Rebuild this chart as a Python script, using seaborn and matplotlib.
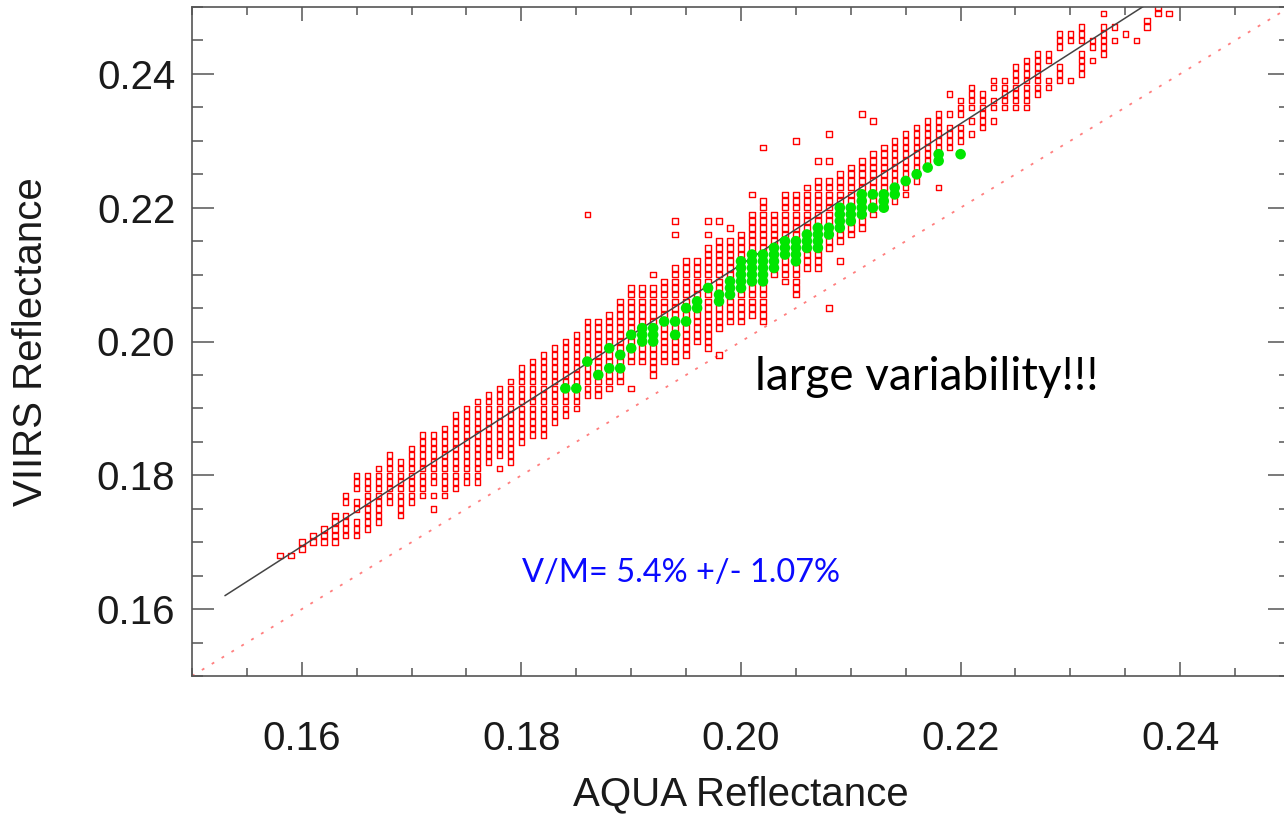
import numpy as np
import pandas as pd
import matplotlib
matplotlib.use("Agg")
import matplotlib.pyplot as plt
import seaborn as sns
from matplotlib.ticker import MultipleLocator, FormatStrFormatter

# ---------------- data (reflectance in units of 0.001) ----------------
# red squares: one column per AQUA value, VIIRS values from lo to hi
red_col_x = [158, 159, 160, 161, 162, 163, 164, 165, 166, 167, 168, 169, 170, 171,
             172, 173, 174, 175, 176, 177, 178, 179, 180, 181, 182, 183, 184, 185,
             186, 187, 188, 189, 190, 191, 192, 193, 194, 195, 196, 197, 198, 199,
             200, 201, 202, 203, 204, 205, 206, 207, 208, 209, 210, 211, 212, 213,
             214, 215, 216, 217, 218, 219, 220, 221, 222, 223, 224, 225, 226, 227,
             228, 229, 230, 231, 232, 233, 234, 235, 236, 237, 238, 239]
red_col_lo = [168, 168, 169, 170, 170, 170, 171, 171, 172, 173, 176, 174, 176, 177,
              177, 177, 178, 179, 179, 182, 183, 182, 185, 186, 186, 188, 189, 190,
              192, 192, 193, 194, 197, 197, 195, 197, 197, 198, 200, 199, 202, 203,
              203, 204, 203, 210, 209, 207, 211, 211, 214, 215, 216, 217, 219, 220,
              221, 222, 224, 227, 229, 229, 230, 231, 232, 233, 235, 235, 235, 237,
              238, 239, 245, 240, 244, 243, 245, 246, 245, 247, 249, 249]
red_col_hi = [168, 168, 170, 171, 172, 174, 177, 180, 180, 181, 183, 182, 184, 186,
              186, 187, 189, 190, 191, 192, 193, 194, 196, 197, 198, 199, 200, 201,
              203, 203, 204, 206, 208, 208, 208, 209, 211, 212, 212, 214, 215, 215,
              216, 219, 221, 219, 222, 222, 223, 224, 224, 225, 226, 227, 228, 229,
              230, 231, 232, 233, 234, 232, 236, 238, 237, 239, 239, 241, 242, 243,
              243, 246, 246, 247, 245, 247, 245, 246, 245, 248, 250, 249]
# empty cells inside a column
red_gap_x = [164, 165, 165, 172, 220, 221, 221, 223, 223, 228, 228, 229, 229, 231]
red_gap_y = [175, 177, 174, 178, 233, 232, 234, 234, 237, 240, 241, 242, 243, 244]
# isolated squares
red_extra_x = [172, 178, 186, 190, 192, 194, 194, 197, 197, 198, 198, 199, 201, 202,
               205, 207, 208, 208, 208, 209, 211, 212, 218, 219, 219, 230, 232, 233, 234]
red_extra_y = [175, 181, 219, 193, 210, 216, 218, 216, 218, 198, 218, 217, 222, 229,
               230, 227, 205, 227, 231, 212, 234, 233, 223, 234, 237, 239, 242, 249, 247]

# green dots
green_x = [184, 185, 186, 187, 188, 188, 189, 189, 190, 190, 191, 191, 191, 192, 192, 192,
           193, 194, 194, 195, 195, 196, 196, 197, 198, 198, 199, 199, 199,
           200, 200, 200, 200, 200, 201, 201, 201, 201, 201, 202, 202, 202, 202, 202,
           203, 203, 203, 203, 204, 204, 204, 205, 205, 205, 205, 206, 206, 206,
           207, 207, 207, 207, 208, 208, 209, 209, 209, 209, 210, 210, 210,
           211, 211, 211, 211, 212, 212, 213, 213, 213, 214, 214, 215, 216, 217,
           218, 218, 220]
green_y = [193, 193, 197, 195, 199, 196, 198, 196, 201, 199, 202, 201, 200, 202, 201, 200,
           203, 203, 201, 205, 203, 206, 205, 208, 207, 206, 209, 208, 207,
           212, 211, 210, 209, 208, 213, 212, 211, 210, 209, 213, 212, 211, 210, 209,
           214, 213, 212, 211, 215, 214, 213, 215, 214, 213, 212, 216, 215, 214,
           217, 216, 215, 214, 217, 216, 220, 219, 218, 217, 220, 219, 218,
           222, 221, 220, 219, 222, 220, 222, 221, 220, 223, 222, 224, 225, 226,
           228, 227, 228]

# linear fit and 1:1 line
fit_slope = 1.053
fit_intercept = 0.0009
fit_x_range = [0.153, 0.25]
one_to_one = [0.15, 0.25]

x_ticks = [0.16, 0.18, 0.20, 0.22, 0.24]
y_ticks = [0.16, 0.18, 0.20, 0.22, 0.24]

# ---------------- build tables ----------------
gaps = set(zip(red_gap_x, red_gap_y))
rx, ry = [], []
for cx, lo, hi in zip(red_col_x, red_col_lo, red_col_hi):
    for yv in range(lo, hi + 1):
        if (cx, yv) not in gaps:
            rx.append(cx)
            ry.append(yv)
rx += red_extra_x
ry += red_extra_y
red_df = pd.DataFrame({"aqua": np.array(rx) / 1000.0, "viirs": np.array(ry) / 1000.0})
green_df = pd.DataFrame({"aqua": np.array(green_x) / 1000.0, "viirs": np.array(green_y) / 1000.0})
fit_df = pd.DataFrame({"aqua": fit_x_range,
                       "viirs": [fit_slope * v + fit_intercept for v in fit_x_range]})
one_df = pd.DataFrame({"aqua": one_to_one, "viirs": one_to_one})

# ---------------- plot ----------------
sns.set_style("white")
plt.rcParams["font.family"] = ["Liberation Sans", "DejaVu Sans"]

W, H = 1284, 815
fig = plt.figure(figsize=(W / 100, H / 100), dpi=100)
ax = fig.add_axes([192 / W, (H - 676) / H, 1098 / W, 669 / H])

sns.lineplot(data=one_df, x="aqua", y="viirs", ax=ax, color="#ff7f7f",
             linewidth=1.3, dashes=False, zorder=1)
ax.lines[-1].set_dashes((1.6, 4.8))
sns.scatterplot(data=red_df, x="aqua", y="viirs", ax=ax, marker="s", s=16,
                facecolor="none", edgecolor="#ff0000", linewidth=1.0, zorder=2)
sns.lineplot(data=fit_df, x="aqua", y="viirs", ax=ax, color="#444444",
             linewidth=1.1, zorder=3)
sns.scatterplot(data=green_df, x="aqua", y="viirs", ax=ax, marker="o", s=58,
                color="#00e600", edgecolor="none", linewidth=0, zorder=4)

ax.set_xlim(0.15, 0.25)
ax.set_ylim(0.15, 0.25)

ax.set_xticks(x_ticks)
ax.set_yticks(y_ticks)
ax.xaxis.set_minor_locator(MultipleLocator(0.005))
ax.yaxis.set_minor_locator(MultipleLocator(0.005))
ax.xaxis.set_major_formatter(FormatStrFormatter("%.2f"))
ax.yaxis.set_major_formatter(FormatStrFormatter("%.2f"))

spine_col = "#555555"
for sp in ax.spines.values():
    sp.set_color(spine_col)
    sp.set_linewidth(1.2)

ax.tick_params(axis="x", which="major", direction="in", length=10, width=1.1,
               color=spine_col, top=True, bottom=True, labelsize=29,
               labelcolor="#1a1a1a", pad=32)
ax.tick_params(axis="x", which="minor", direction="in", length=5.5, width=1.1,
               color=spine_col, top=True, bottom=True)
ax.tick_params(axis="y", which="major", direction="in", length=16, width=1.1,
               color=spine_col, left=True, right=True, labelsize=29,
               labelcolor="#1a1a1a", pad=12)
ax.tick_params(axis="y", which="minor", direction="in", length=8, width=1.1,
               color=spine_col, left=True, right=True)

ax.set_xlabel("AQUA Reflectance", fontsize=29, color="#1a1a1a", labelpad=12)
ax.set_ylabel("VIIRS Reflectance", fontsize=29, color="#1a1a1a", labelpad=34)

ax.text(0.2013, 0.19275, "large variability!!!", fontsize=33, color="black",
        family=["Lato", "DejaVu Sans"], va="baseline", ha="left")
ax.text(0.18005, 0.16405, "V/M= 5.4% +/- 1.07%", fontsize=23.4, color="#0a0aff",
        family=["Lato", "DejaVu Sans"], va="baseline", ha="left")

fig.savefig("out.png", dpi=100)
